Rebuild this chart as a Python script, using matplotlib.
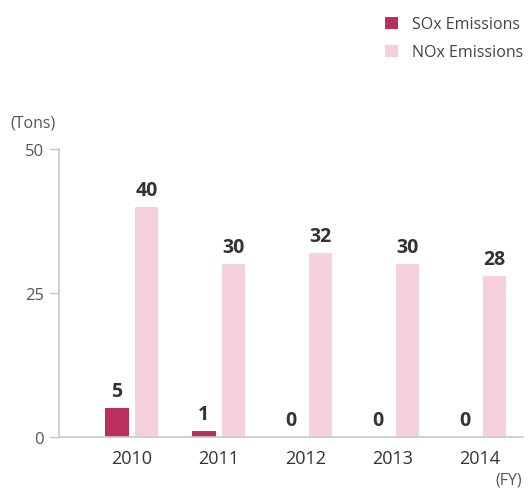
import matplotlib
matplotlib.use("Agg")
import matplotlib.pyplot as plt
import numpy as np

years = ["2010", "2011", "2012", "2013", "2014"]
sox = [5, 1, 0, 0, 0]
nox = [40, 30, 32, 30, 28]
yticks = [0, 25, 50]

SOX_C = "#B92F5D"
NOX_C = "#F6D1DD"
TXT = "#333333"
GRAY = "#555555"
SPINE = "#C8C8C8"

plt.rcParams['font.family'] = ['Open Sans', 'DejaVu Sans']

fig = plt.figure(figsize=(5.28, 4.89), dpi=100)
ax = fig.add_axes([59/528, 1-438/489, (523-59)/528, (438-150)/489])

x = np.arange(len(years))
w = 0.27
off = 0.17
b1 = ax.bar(x - off, sox, w, color=SOX_C, label="SOx Emissions")
b2 = ax.bar(x + off, nox, w, color=NOX_C, label="NOx Emissions")

for xi, v in zip(x, sox):
    ax.annotate(str(v), (xi - off, v), xytext=(0, 5), textcoords="offset points",
                ha="center", va="bottom", fontsize=14, fontweight="bold", color=TXT)
for xi, v in zip(x, nox):
    ax.annotate(str(v), (xi + off, v), xytext=(0, 5), textcoords="offset points",
                ha="center", va="bottom", fontsize=14, fontweight="bold", color=TXT)

ax.set_xlim(-0.837, 4.50)
ax.set_ylim(0, 50)
ax.set_yticks(yticks)
ax.set_yticklabels([str(t) for t in yticks], fontsize=12, color=GRAY)
ax.set_xticks(x)
ax.set_xticklabels(years, fontsize=13, color=TXT)
ax.tick_params(axis="x", length=0, pad=9)
ax.tick_params(axis="y", length=7, width=1, color=SPINE, pad=4)
for s in ["top", "right"]:
    ax.spines[s].set_visible(False)
for s in ["left", "bottom"]:
    ax.spines[s].set_color(SPINE)
    ax.spines[s].set_linewidth(1.2)

fig.text(10/528, 1-123/489, "(Tons)", fontsize=11.5, color=GRAY, va="center", ha="left")
fig.text(522/528, 1-481/489, "(FY)", fontsize=11.5, color=GRAY, va="center", ha="right")

fig.legend(handles=[b1, b2], loc="upper left", bbox_to_anchor=(379/528, 1-11/489),
           frameon=False, fontsize=11.5, handlelength=0.8, handleheight=0.8,
           labelspacing=0.75, handletextpad=0.85, borderaxespad=0, labelcolor="#444444")

fig.savefig("out.png", dpi=100)
